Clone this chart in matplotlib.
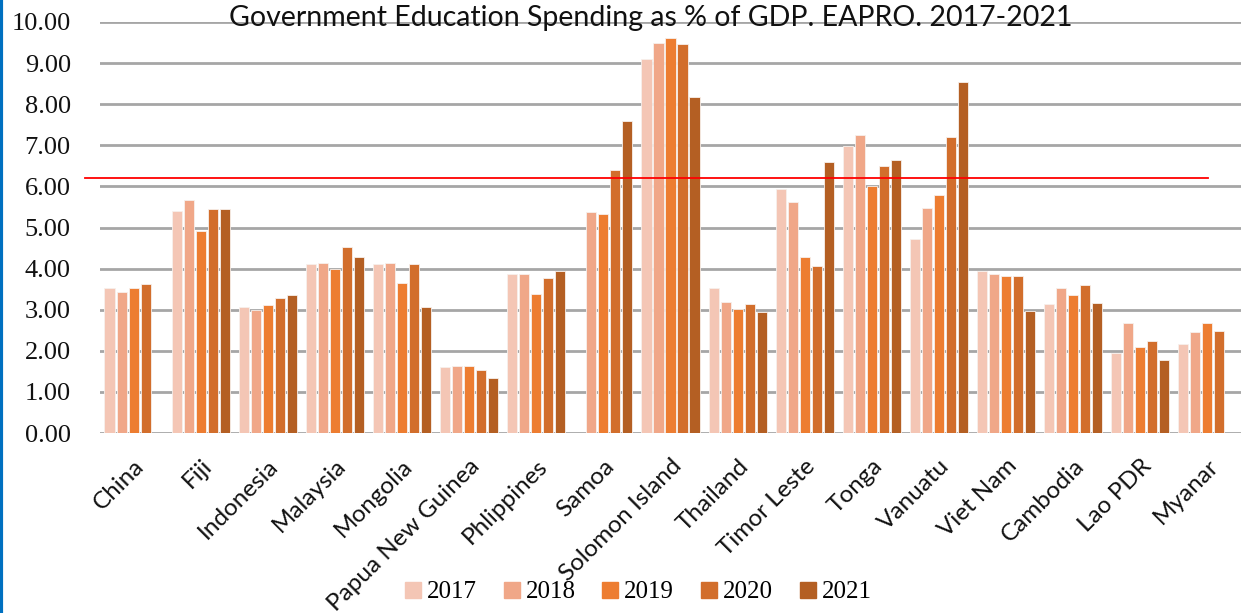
import numpy as np
import matplotlib
matplotlib.use("Agg")
from matplotlib import pyplot as plt
from matplotlib.lines import Line2D

countries = ['China', 'Fiji', 'Indonesia', 'Malaysia', 'Mongolia', 'Papua New Guinea',
             'Phlippines', 'Samoa', 'Solomon Island', 'Thailand', 'Timor Leste', 'Tonga',
             'Vanuatu', 'Viet Nam', 'Cambodia', 'Lao PDR', 'Myanar']
years = ['2017', '2018', '2019', '2020', '2021']
nan = np.nan

y2017 = [3.52, 5.40, 3.06, 4.10, 4.10, 1.60, 3.87, nan, 9.10, 3.52, 5.93, 6.99, 4.72, 3.93, 3.14, 1.95, 2.16]
y2018 = [3.42, 5.66, 3.00, 4.13, 4.13, 1.62, 3.86, 5.37, 9.49, 3.18, 5.63, 7.24, 5.47, 3.87, 3.52, 2.67, 2.46]
y2019 = [3.52, 4.92, 3.11, 3.99, 3.64, 1.64, 3.37, 5.32, 9.62, 3.01, 4.29, 6.00, 5.79, 3.82, 3.36, 2.09, 2.68]
y2020 = [3.62, 5.45, 3.28, 4.53, 4.12, 1.53, 3.77, 6.39, 9.46, 3.15, 4.06, 6.49, 7.19, 3.82, 3.61, 2.25, 2.49]
y2021 = [nan, 5.44, 3.35, 4.29, 3.06, 1.34, 3.95, 7.58, 8.18, 2.94, 6.59, 6.65, 8.54, 2.96, 3.17, 1.78, nan]
series = [y2017, y2018, y2019, y2020, y2021]
colors = ['#F4C6B5', '#F0A788', '#ED7D31', '#D26E2C', '#B45F23']
reference_level = 6.2

W, H = 1256, 613
fig = plt.figure(figsize=(W / 100, H / 100), dpi=100)
ax = fig.add_axes([100 / W, 1 - 433 / H, 1141 / W, 411 / H])

x = np.arange(len(countries))
pitch = 0.179
for j, vals in enumerate(series):
    ax.bar(x + (j - 2) * pitch, vals, width=0.15, color=colors[j],
           edgecolor='#f7f0ec', linewidth=0.6, zorder=3, label=years[j])

ax.set_xlim(-0.5, len(countries) - 0.5)
ax.set_ylim(0, 10)
ax.set_yticks(np.arange(0, 11, 1))
ax.set_yticklabels([f'{v:.2f}' for v in range(11)], fontfamily='Liberation Serif',
                   fontsize=19, color='#111111')
ax.yaxis.grid(True, color='#a6a6a6', linewidth=2, zorder=0)
ax.set_axisbelow(True)
for s in ax.spines.values():
    s.set_visible(False)
ax.tick_params(axis='both', length=0)
ax.tick_params(axis='y', pad=21)

ax.set_xticks(x)
ax.set_xticklabels(countries, rotation=45, ha='right', rotation_mode='anchor',
                   fontfamily='Lato', fontsize=17.5, color='#111111')
ax.tick_params(axis='x', pad=16)

# red reference line, reaching a bit past the left edge of the grid
ax.axhline(reference_level, xmin=-0.013, xmax=0.971, color='red', linewidth=1.3,
           clip_on=False, zorder=4)

fig.text(651 / W, 1 - 18 / H, 'Government Education Spending as % of GDP. EAPRO. 2017-2021',
         ha='center', va='center', fontfamily='Lato', fontsize=20.5, color='#111111')

handles = [Line2D([], [], marker='s', linestyle='', markersize=11, color=c) for c in colors]
fig.legend(handles, years, loc='center', bbox_to_anchor=(636 / W, 1 - 592 / H), ncol=5,
           frameon=False, prop={'family': 'Liberation Serif', 'size': 18},
           handletextpad=0.05, columnspacing=0.9, handlelength=1.0)

# blue strip down the left edge
fig.add_artist(Line2D([0.001, 0.001], [0, 1], transform=fig.transFigure,
                      color='#0070C0', linewidth=3))

fig.savefig('out.png', dpi=100)
